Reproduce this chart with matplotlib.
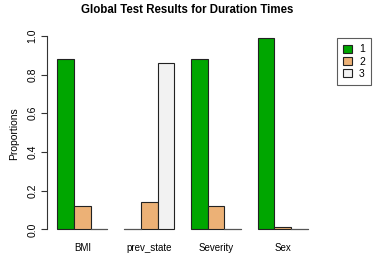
import numpy as np
import matplotlib
matplotlib.use('Agg')
import matplotlib.pyplot as plt
from matplotlib.patches import Patch

plt.rcParams['font.family'] = ['Liberation Sans', 'DejaVu Sans']

groups = ['BMI', 'prev_state', 'Severity', 'Sex']
levels = ['1', '2', '3']
p1 = [0.88, 0.00, 0.88, 0.99]
p2 = [0.12, 0.14, 0.12, 0.01]
p3 = [0.00, 0.86, 0.00, 0.00]
colors = ['#00A600', '#ECB176', '#F2F2F2']

fig = plt.figure(figsize=(3.74, 2.54), dpi=100)
ax = fig.add_axes([0.1265, 0.067, 0.7235, 0.814])

# R style beside barplot: bar width 1, one bar of space before each group
series = [p1, p2, p3]
for k, vals in enumerate(series):
    lefts = np.arange(len(groups)) * 4 + 1 + k
    ax.bar(lefts, vals, width=1, align='edge', color=colors[k],
           edgecolor='#222222', linewidth=0.8)
    # zero-height bars still show as a flat line in R
    for x0, v in zip(lefts, vals):
        if v == 0:
            ax.plot([x0, x0 + 1], [0, 0], color='#555555', lw=0.8)

ax.set_xlim(0.4, 16.6)
ax.set_ylim(-0.0396, 1.0296)
for s in ['top', 'right', 'bottom']:
    ax.spines[s].set_visible(False)
ax.spines['left'].set_bounds(0, 1)
ax.spines['left'].set_color('#333333')
ax.spines['left'].set_linewidth(0.8)
ax.set_yticks([0, 0.2, 0.4, 0.6, 0.8, 1.0])
ax.set_yticklabels(['0.0', '0.2', '0.4', '0.6', '0.8', '1.0'], rotation=90, va='center')
ax.tick_params(axis='y', length=4, width=0.8, color='#333333', labelsize=7.5, pad=3)
ax.set_xticks(np.arange(len(groups)) * 4 + 2.5)
ax.set_xticklabels(groups)
ax.tick_params(axis='x', length=0, labelsize=7, pad=4.5)
ax.set_ylabel('Proportions', fontsize=7.5, labelpad=6)

fig.suptitle('Global Test Results for Duration Times', fontsize=8.3, fontweight='bold', y=0.985)

handles = [Patch(facecolor=c, edgecolor='#222222', linewidth=0.8) for c in colors]
leg = fig.legend(handles, levels, loc='upper left', bbox_to_anchor=(0.893, 0.862),
                 fontsize=7.5, frameon=True, fancybox=False, handlelength=0.8,
                 handleheight=0.8, handletextpad=0.7, borderpad=0.6, labelspacing=0.2,
                 borderaxespad=0.3)
leg.get_frame().set_edgecolor('#333333')
leg.get_frame().set_linewidth(0.8)

fig.savefig('out.png', dpi=100)
